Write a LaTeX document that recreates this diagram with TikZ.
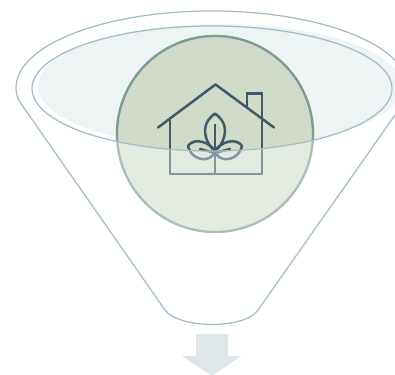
\documentclass[tikz,border=0pt]{standalone}
\definecolor{funnelline}{HTML}{A3BDC8}
\definecolor{glass}{HTML}{EEF3F4}
\definecolor{arrowfill}{HTML}{DEE6E9}
\definecolor{upfill}{HTML}{D2DBC9}
\definecolor{upline}{HTML}{7A9E97}
\definecolor{lowfill}{HTML}{E3EAE0}
\definecolor{lowline}{HTML}{A9BEBB}
\definecolor{iconup}{HTML}{3F5A68}
\definecolor{iconlow}{HTML}{8496A0}
\tikzset{
  funnel/.style={draw=funnelline,line width=1.25pt,line join=round},
  iconline/.style={line width=2.5pt,line join=round,line cap=round},
}
\newcommand{\houseicon}[1]{%
  \begin{scope}[iconline,draw=#1]
    \draw (158,127.5) -- (215.5,84.5) -- (274,127.5);
    \draw[line cap=butt,line join=miter] (170,118) -- (170,174) -- (262,174) -- (262,93.5) -- (247,93.5) -- (247,107);
    \draw[line cap=butt] (215,124) -- (215,174);
    \draw (215,150.5) .. controls (209,147) and (205,138) .. (205,130)
          .. controls (205,123) and (210,117) .. (215,113.5)
          .. controls (220,117) and (225,123) .. (225,130)
          .. controls (225,138) and (221,147) .. (215,150.5);
    \draw (215,150.5) .. controls (209,142) and (194,137) .. (188,146)
          .. controls (190,155) and (198,160) .. (206,159)
          .. controls (211,158) and (214,155) .. (215,150.5);
    \draw (215,150.5) .. controls (221,142) and (236,137) .. (242,146)
          .. controls (240,155) and (232,160) .. (224,159)
          .. controls (219,158) and (216,155) .. (215,150.5);
    \draw (200,149) -- (215,153) -- (230,149);
  \end{scope}}
\begin{document}
\begin{tikzpicture}[x=1pt,y=-1pt]
\useasboundingbox (0,0) rectangle (395,374);
\clip (0,0) rectangle (395,374);
% glass surface
\fill[glass] (220,86) ellipse [x radius=182,y radius=62];
% funnel outline
\draw[funnel] (18.5,100) -- (165,310)
  .. controls (172,320) and (195,324.5) .. (212,324.5)
  .. controls (230,324.5) and (252,320) .. (258,310) -- (400,108);
\draw[funnel] (18.5,100) .. controls (17,96) and (16,92) .. (16,88)
  .. controls (16,45) and (104,11) .. (212,11)
  .. controls (320,11) and (408,45) .. (408,88);
% circle, lower (pale) layer
\fill[lowfill] (215,134) circle [radius=98];
\draw[lowline,line width=2.3pt] (215,134) circle [radius=98];
\houseicon{iconlow}
% circle, upper layer
\begin{scope}
  \clip (212,88.5) ellipse [x radius=180,y radius=62.5];
  \fill[upfill] (215,134) circle [radius=98];
  \draw[upline,line width=2.3pt] (215,134) circle [radius=98];
  \houseicon{iconup}
\end{scope}
\draw[funnel] (212,88.5) ellipse [x radius=180,y radius=62.5];
% down arrow
\fill[arrowfill] (196,334) -- (228,334) -- (228,356) -- (241,356) -- (212,376) -- (182,356) -- (196,356) -- cycle;
\end{tikzpicture}
\end{document}
